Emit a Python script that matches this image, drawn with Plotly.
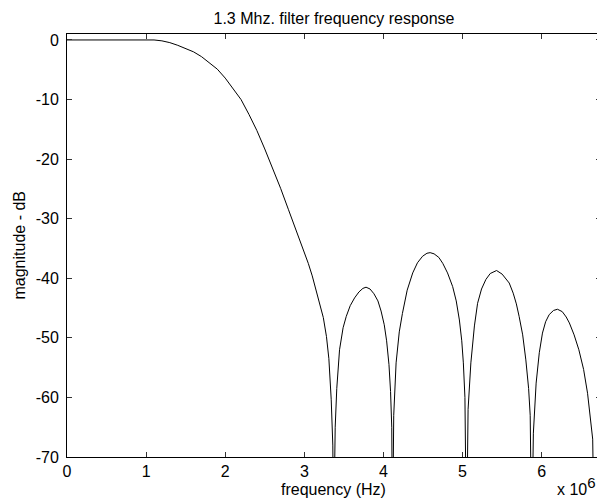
import plotly.graph_objects as go

# frequency in MHz (scaled to Hz below), magnitude in dB
freq_mhz = [
    0.0, 0.2, 0.4, 0.6, 0.8, 1.0, 1.1, 1.2, 1.3, 1.4, 1.5, 1.6, 1.7, 1.8, 1.9,
    2.0, 2.1, 2.2, 2.3, 2.4, 2.5, 2.6, 2.7, 2.8, 2.9, 2.98, 3.05, 3.1, 3.15,
    3.2, 3.24, 3.28, 3.31, 3.34, 3.36, 3.37,
    3.39, 3.41, 3.445, 3.49, 3.53, 3.58, 3.635, 3.69, 3.74, 3.78, 3.83, 3.88,
    3.93, 3.97, 4.01, 4.04, 4.07, 4.09, 4.105, 4.115,
    4.13, 4.16, 4.2, 4.24, 4.3, 4.37, 4.43, 4.495, 4.55, 4.59, 4.64, 4.7,
    4.75, 4.81, 4.875, 4.92, 4.96, 4.99, 5.01, 5.03, 5.05,
    5.07, 5.105, 5.15, 5.19, 5.24, 5.295, 5.35, 5.43, 5.5, 5.55, 5.59, 5.64,
    5.68, 5.715, 5.76, 5.80, 5.835, 5.855, 5.875,
    5.895, 5.93, 5.97, 6.01, 6.05, 6.095, 6.15, 6.2, 6.26, 6.31, 6.35, 6.41,
    6.47, 6.53, 6.58, 6.62, 6.645, 6.665,
]
magnitude_db = [
    0.0, 0.0, 0.0, 0.03, 0.07, 0.07, 0.0, -0.15, -0.45, -0.9, -1.4, -2.0, -2.8, -3.8, -4.9,
    -6.4, -8.2, -10.0, -12.5, -15.2, -18.3, -21.5, -24.9, -28.5, -32.0, -34.8, -37.5, -39.6, -42.0,
    -44.4, -46.6, -49.8, -53.5, -60.4, -68.0, -85.0,
    -65.0, -58.5, -52.0, -48.3, -46.4, -44.6, -43.3, -42.3, -41.7, -41.5, -41.8, -42.6,
    -43.8, -45.5, -47.8, -50.5, -54.5, -59.0, -65.0, -85.0,
    -63.0, -54.2, -49.0, -45.9, -42.0, -39.1, -37.4, -36.3, -35.8, -35.7, -35.9, -36.5,
    -37.5, -39.1, -41.4, -43.8, -47.0, -50.5, -54.2, -60.0, -85.0,
    -62.0, -54.2, -48.0, -44.2, -41.8, -40.2, -39.2, -38.7, -39.3, -40.1, -40.8, -42.5,
    -44.3, -46.4, -49.5, -53.7, -58.5, -63.0, -85.0,
    -66.0, -57.6, -52.5, -49.2, -47.3, -46.1, -45.4, -45.2, -45.6, -46.5, -47.5, -49.5,
    -52.0, -55.3, -59.3, -63.5, -67.0, -85.0,
]

x_tick_vals_mhz = [0, 1, 2, 3, 4, 5, 6]
x_tick_labels = ["0", "1", "2", "3", "4", "5", "6"]
y_tick_vals = [0, -10, -20, -30, -40, -50, -60, -70]
y_tick_labels = ["0", "-10", "-20", "-30", "-40", "-50", "-60", "-70"]

freq_hz = [f * 1e6 for f in freq_mhz]

FONT = "Liberation Sans, Arial, Helvetica, sans-serif"
FS = 16
OFF = 8  # page body margin
W, H = 605 - OFF, 500 - OFF
L, R, T, B = 67 - OFF, 4, 34 - OFF, 43
PW = W - L - R

fig = go.Figure()
fig.add_trace(go.Scatter(
    x=freq_hz, y=magnitude_db, mode="lines",
    line=dict(color="black", width=1),
    showlegend=False, hoverinfo="x+y",
))

axis_common = dict(
    showline=True, linecolor="black", linewidth=1, mirror="ticks",
    ticks="inside", ticklen=5, tickcolor="#333", tickwidth=1,
    showgrid=False, zeroline=False, automargin=False,
    tickfont=dict(family=FONT, size=FS, color="black"),
)

fig.update_layout(
    width=W, height=H,
    margin=dict(l=L, r=R, t=T, b=B, autoexpand=False),
    paper_bgcolor="white", plot_bgcolor="white",
    font=dict(family=FONT, size=FS, color="black"),
    title=dict(text="1.3 Mhz. filter frequency response",
               x=0.5, xref="paper", xanchor="center", y=1 - (18 - OFF) / H, yanchor="middle",
               font=dict(family=FONT, size=FS, color="black")),
    xaxis=dict(range=[0, 6.75e6],
               tickvals=[v * 1e6 for v in x_tick_vals_mhz], ticktext=x_tick_labels,
               **axis_common),
    yaxis=dict(range=[-70, 1],
               tickvals=y_tick_vals, ticktext=y_tick_labels,
               ticklabelstandoff=4,
               **axis_common),
    annotations=[
        dict(text="frequency (Hz)", xref="paper", yref="paper",
             x=(333 - 67) / PW, y=0, xanchor="center", yanchor="middle", yshift=-32,
             showarrow=False, font=dict(family=FONT, size=FS, color="black")),
        dict(text="magnitude - dB", xref="paper", yref="paper", textangle=-90,
             x=(19 - 67) / PW, y=0.5, xanchor="center", yanchor="middle",
             showarrow=False, font=dict(family=FONT, size=FS, color="black")),
        dict(text="x 10<sup><span style='font-size:15px'>6</span></sup>",
             xref="paper", yref="paper",
             x=1.0, y=0, xanchor="right", yanchor="middle", yshift=-29, xshift=-3,
             showarrow=False, font=dict(family=FONT, size=FS, color="black")),
    ],
)

fig.write_html("out.html")
